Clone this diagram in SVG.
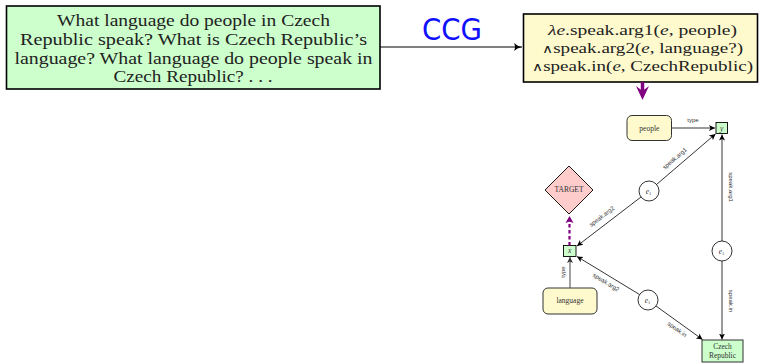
<svg xmlns="http://www.w3.org/2000/svg" width="760" height="363" viewBox="0 0 760 363">
<style>
.box{stroke:#000;stroke-width:1.6}
.serif{font-family:"Liberation Serif","DejaVu Serif",serif;fill:#222}
.big{font-size:16.5px;text-anchor:middle}
.mid{font-size:15px;text-anchor:middle}
.wedge{font-family:"DejaVu Sans","DejaVu Serif",sans-serif;font-size:12px;font-weight:200}
.edge{fill:none;stroke:#000;stroke-width:0.8}
.lbl{font-family:"Liberation Sans","DejaVu Sans",sans-serif;font-size:6px;fill:#333;text-anchor:middle}
.nt{font-family:"Liberation Serif","DejaVu Serif",serif;font-size:7.5px;fill:#333;text-anchor:middle}
.circ{fill:#fff;stroke:#000;stroke-width:0.8}
.green{fill:#ccffcc}
.yellow{fill:#fffacd}
</style>
<defs>
<marker id="ah" markerWidth="8" markerHeight="8" refX="6" refY="3" orient="auto" markerUnits="userSpaceOnUse" viewBox="0 0 8 6">
<path d="M0,0 L6,3 L0,6 L1.5,3 z" fill="#000"/>
</marker>
<marker id="ahg" markerWidth="8" markerHeight="8" refX="6" refY="3" orient="auto" markerUnits="userSpaceOnUse" viewBox="0 0 8 6">
<path d="M0,0 L6,3 L0,6 L1.5,3 z" fill="#333"/>
</marker>
<marker id="ahb" markerWidth="10" markerHeight="10" refX="8" refY="4" orient="auto" markerUnits="userSpaceOnUse" viewBox="0 0 10 8">
<path d="M0,0 Q3,3 8,4 Q3,5 0,8 Q2,4 0,0 z" fill="#000"/>
</marker>
<marker id="ahp" markerWidth="10" markerHeight="10" refX="7" refY="4" orient="auto" markerUnits="userSpaceOnUse" viewBox="0 0 10 8">
<path d="M0,0 L7,4 L0,8 L1.5,4 z" fill="#800080"/>
</marker>
</defs>

<g id="question-box">
<rect class="box green" x="6.5" y="6" width="373.5" height="83"/>
<text class="serif big" x="193.5" y="26" textLength="273" lengthAdjust="spacingAndGlyphs">What language do people in Czech</text>
<text class="serif big" x="193.5" y="45" textLength="347" lengthAdjust="spacingAndGlyphs">Republic speak? What is Czech Republic’s</text>
<text class="serif big" x="193.5" y="64" textLength="358" lengthAdjust="spacingAndGlyphs">language? What language do people speak in</text>
<text class="serif big" x="193" y="82" textLength="159" lengthAdjust="spacingAndGlyphs">Czech Republic? . . .</text>
</g>

<g id="logical-form-box">
<rect class="box yellow" x="523.5" y="14" width="234" height="68"/>
<text class="serif mid" x="642.5" y="35" textLength="189" lengthAdjust="spacingAndGlyphs"><tspan font-style="italic">λe</tspan>.speak.arg1(<tspan font-style="italic">e</tspan>, people)</text>
<text class="serif mid" x="642.5" y="53" textLength="201" lengthAdjust="spacingAndGlyphs"><tspan class="wedge">∧</tspan>speak.arg2(<tspan font-style="italic">e</tspan>, language?)</text>
<text class="serif mid" x="642.5" y="71" textLength="221" lengthAdjust="spacingAndGlyphs"><tspan class="wedge">∧</tspan>speak.in(<tspan font-style="italic">e</tspan>, CzechRepublic)</text>
</g>

<g id="node-people">
<rect class="yellow" x="627" y="115.5" width="44.5" height="25" rx="5" stroke="#333" stroke-width="1"/>
<text class="nt" x="649.3" y="130.5">people</text>
</g>
<g id="node-y">
<rect class="green" x="716" y="122.5" width="11.5" height="11" stroke="#000" stroke-width="0.9"/>
<text class="nt" x="721.7" y="130.5" font-style="italic" font-size="6">y</text>
</g>
<g id="node-target">
<polygon points="569,166 593,190 569,214 545,190" fill="#ffcccc" stroke="#000" stroke-width="0.9"/>
<text class="nt" x="569" y="192" font-size="5.5">TARGET</text>
</g>
<g id="node-x">
<rect class="green" x="563.5" y="245.5" width="12.5" height="11" stroke="#000" stroke-width="0.9"/>
<text class="nt" x="569.7" y="253" font-style="italic" font-size="6">x</text>
</g>
<g id="node-language">
<rect class="yellow" x="543" y="288" width="54" height="26" rx="5" stroke="#333" stroke-width="1"/>
<text class="nt" x="570" y="303">language</text>
</g>
<g id="node-czech">
<rect class="green" x="702" y="340" width="41" height="22" stroke="#333" stroke-width="1"/>
<text class="nt" x="722.5" y="349">Czech</text>
<text class="nt" x="722.5" y="358">Republic</text>
</g>
<g id="node-e1-top">
<circle class="circ" cx="649" cy="191" r="10"/>
<text class="nt" x="648.5" y="193.5"><tspan font-style="italic">e</tspan><tspan font-size="4.5" dy="1">1</tspan></text>
</g>
<g id="node-e1-right">
<circle class="circ" cx="722" cy="251" r="10"/>
<text class="nt" x="721.5" y="253.5"><tspan font-style="italic">e</tspan><tspan font-size="4.5" dy="1">1</tspan></text>
</g>
<g id="node-e1-bottom">
<circle class="circ" cx="648" cy="300" r="10"/>
<text class="nt" x="647.5" y="302.5"><tspan font-style="italic">e</tspan><tspan font-size="4.5" dy="1">1</tspan></text>
</g>

<g id="connectors">
<line x1="380" y1="47" x2="522" y2="47" stroke="#000" stroke-width="1.2" marker-end="url(#ahb)"/>
<text x="452" y="40" font-family="DejaVu Sans, sans-serif" font-size="31" fill="#1010ff" text-anchor="middle" textLength="60" lengthAdjust="spacingAndGlyphs">CCG</text>

<line x1="642.5" y1="82" x2="642.5" y2="92" stroke="#800080" stroke-width="3.5"/>
<path d="M636,86 L642.5,100 L649,86 L642.5,91 z" fill="#800080"/>

<line class="edge" x1="672" y1="128" x2="715" y2="128" marker-end="url(#ah)"/>
<text class="lbl" x="693" y="122">type</text>

<line class="edge" x1="656.5" y1="184.5" x2="715.5" y2="134" marker-end="url(#ah)"/>
<text class="lbl" transform="translate(676,160) rotate(-40.5)">speak.arg1</text>

<line class="edge" x1="641" y1="197" x2="577" y2="246" marker-end="url(#ah)"/>
<text class="lbl" transform="translate(603,218) rotate(-37.5)">speak.arg2</text>

<line class="edge" x1="722" y1="241" x2="722" y2="134.5" marker-end="url(#ah)"/>
<text class="lbl" transform="translate(729,187) rotate(90)">speak.arg1</text>

<line class="edge" x1="722" y1="261" x2="722" y2="339.5" marker-end="url(#ah)"/>
<text class="lbl" transform="translate(729,301) rotate(90)">speak.in</text>

<line class="edge" x1="639.5" y1="294.5" x2="577" y2="256.5" marker-end="url(#ah)"/>
<text class="lbl" transform="translate(605,284) rotate(31.5)">speak.arg2</text>

<line class="edge" x1="656" y1="306" x2="702.5" y2="339.5" marker-end="url(#ah)"/>
<text class="lbl" transform="translate(676,331) rotate(36)">speak.in</text>

<line x1="570" y1="288" x2="570" y2="257" stroke="#555" stroke-width="1.1" fill="none" marker-end="url(#ahg)"/>
<text class="lbl" transform="translate(565,272) rotate(-90)">type</text>

<line x1="569.5" y1="245.5" x2="569.5" y2="216" stroke="#800080" stroke-width="2.2" stroke-dasharray="3.5,2.5" marker-end="url(#ahp)"/>
</g>
</svg>
